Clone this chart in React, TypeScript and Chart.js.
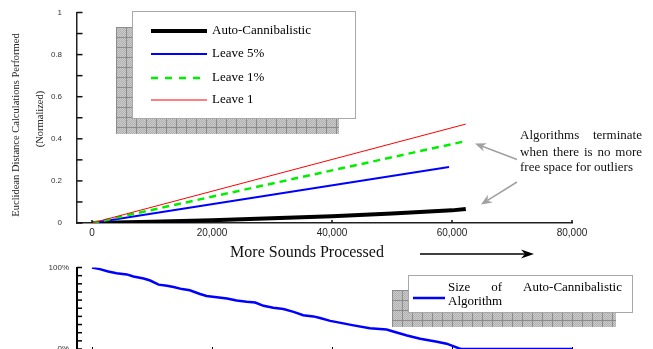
import React, { useEffect, useRef } from 'react';
import { Chart, registerables } from 'chart.js';

Chart.register(...registerables);

const SERIF = '"Liberation Serif", "Times New Roman", serif';
const SANS = '"Liberation Sans", Arial, sans-serif';

// ---- data (top chart) ----
const seriesNames = ['Auto-Cannibalistic', 'Leave 5%', 'Leave 1%', 'Leave 1'];
const autoX = [0, 10000, 20000, 30000, 40000, 50000, 60000, 62300];
const autoY = [0, 0.006, 0.013, 0.022, 0.032, 0.045, 0.06, 0.067];
const leave5X = [0, 59500];
const leave5Y = [0, 0.266];
const leave1pX = [0, 61800];
const leave1pY = [0, 0.386];
const leave1X = [0, 62300];
const leave1Y = [0, 0.47];

const xTickValues = [0, 20000, 40000, 60000, 80000];
const xTickLabels = ['0', '20,000', '40,000', '60,000', '80,000'];
const yTickLabels = ['0', '0.2', '0.4', '0.6', '0.8', '1'];
const xTitle = 'More Sounds Processed';
const yTitleLines = ['Euclidean Distance Calculations Performed', '(Normalized)'];
const annotationLines = ['Algorithms terminate', 'when there is no more', 'free space for outliers'];

// ---- data (bottom chart) ----
const sizeX = [0, 1300, 2700, 4100, 5800, 6900, 8600, 9700, 11100, 12500, 13600, 15000, 16300, 18000, 19100, 20800, 22500, 24100, 25800, 27200, 28600, 30200, 31900, 33600, 35200, 36900, 38000, 39700, 40800, 43600, 46300, 49100, 50200, 52500, 54700, 57500, 59100, 61100, 61500, 80000];
const sizeY = [100, 98, 95, 93, 91.5, 89, 86.5, 84, 79, 77.5, 76, 73.5, 72, 67.5, 65, 63.5, 62, 59.5, 58, 57, 53, 50.5, 49, 45.5, 41.5, 40, 38, 34.5, 33, 29, 25.5, 24, 21.5, 16.5, 12.5, 9, 6.5, 1, 0, 0];
const bottomYTickLabels = ['0%', '100%'];
const bottomLegendLines = ['Size of Auto-Cannibalistic', 'Algorithm'];

const zip = (xs: number[], ys: number[]) => xs.map((x, i) => ({ x, y: ys[i] }));

function hatchPattern(ctx: CanvasRenderingContext2D) {
  const c = document.createElement('canvas');
  c.width = 10;
  c.height = 10;
  const g = c.getContext('2d')!;
  g.fillStyle = '#cbcbcb';
  g.fillRect(0, 0, 10, 10);
  g.fillStyle = '#b0b0b0';
  for (let i = 0; i < 10; i++) for (let j = 0; j < 10; j++) if ((i + j) % 2 === 0) g.fillRect(i, j, 1, 1);
  g.fillStyle = '#8c8c8c';
  g.fillRect(0, 0, 10, 1);
  g.fillRect(0, 0, 1, 10);
  return ctx.createPattern(c, 'repeat')!;
}

function shadowBox(ctx: CanvasRenderingContext2D, sx: number, sy: number, bx: number, by: number, w: number, h: number) {
  ctx.save();
  ctx.translate(sx, sy);
  ctx.fillStyle = hatchPattern(ctx);
  ctx.fillRect(0, 0, w, h);
  ctx.restore();
  ctx.fillStyle = '#ffffff';
  ctx.fillRect(bx, by, w, h);
  ctx.strokeStyle = '#a8a8a8';
  ctx.lineWidth = 1;
  ctx.strokeRect(bx + 0.5, by + 0.5, w, h);
}

function arrow(ctx: CanvasRenderingContext2D, x1: number, y1: number, x2: number, y2: number, color: string, lw: number, hl: number, hw: number) {
  const a = Math.atan2(y2 - y1, x2 - x1);
  const c = Math.cos(a), s = Math.sin(a);
  const bx = x2 - hl * c, by = y2 - hl * s;
  const nx = x2 - hl * 0.7 * c, ny = y2 - hl * 0.7 * s;
  ctx.strokeStyle = color;
  ctx.lineWidth = lw;
  ctx.beginPath();
  ctx.moveTo(x1, y1);
  ctx.lineTo(nx, ny);
  ctx.stroke();
  ctx.fillStyle = color;
  ctx.beginPath();
  ctx.moveTo(x2, y2);
  ctx.lineTo(bx - s * hw, by + c * hw);
  ctx.lineTo(nx, ny);
  ctx.lineTo(bx + s * hw, by - c * hw);
  ctx.closePath();
  ctx.fill();
}

function justified(ctx: CanvasRenderingContext2D, text: string, x1: number, x2: number, y: number) {
  const words = text.split(' ');
  const widths = words.map((w) => ctx.measureText(w).width);
  const total = widths.reduce((a, b) => a + b, 0);
  const gap = words.length > 1 ? (x2 - x1 - total) / (words.length - 1) : 0;
  let x = x1;
  words.forEach((w, i) => {
    ctx.fillText(w, x, y);
    x += widths[i] + gap;
  });
}

const topDecor = {
  id: 'topDecor',
  afterDraw(chart: any) {
    const { ctx, chartArea, scales } = chart;
    const xs = scales.x, ys = scales.y;
    ctx.save();
    // inward tick marks
    ctx.strokeStyle = '#111';
    ctx.lineWidth = 1.5;
    ys.ticks.forEach((t: any) => {
      const py = ys.getPixelForValue(t.value);
      ctx.beginPath();
      ctx.moveTo(chartArea.left, py);
      ctx.lineTo(chartArea.left + 5.5, py);
      ctx.stroke();
    });
    xs.ticks.forEach((t: any) => {
      const px = xs.getPixelForValue(t.value);
      ctx.beginPath();
      ctx.moveTo(px, chartArea.bottom);
      ctx.lineTo(px, chartArea.bottom - 3);
      ctx.stroke();
    });

    // y title
    ctx.fillStyle = '#222';
    ctx.font = `10.5px ${SERIF}`;
    ctx.textAlign = 'center';
    ctx.textBaseline = 'middle';
    [[16, 125], [40, 119]].forEach(([tx, ty], i) => {
      ctx.save();
      ctx.translate(tx, ty);
      ctx.rotate(-Math.PI / 2);
      ctx.fillText(yTitleLines[i], 0, 0);
      ctx.restore();
    });

    // x title + arrow
    ctx.fillStyle = '#111';
    ctx.font = `16px ${SERIF}`;
    ctx.fillText(xTitle, 307, 253);
    arrow(ctx, 420, 254, 534, 254, '#000', 1.5, 13, 4.5);

    // legend
    shadowBox(ctx, 116, 27, 132, 11, 223, 107);
    const rows = [31, 54, 78, 100];
    const styles = [
      { c: '#000000', w: 4, d: [] as number[] },
      { c: '#0000ff', w: 2, d: [] as number[] },
      { c: '#00ee00', w: 2.5, d: [7, 7] },
      { c: '#ff0000', w: 1, d: [] as number[] },
    ];
    ctx.font = `13px ${SERIF}`;
    ctx.textAlign = 'left';
    ctx.textBaseline = 'middle';
    rows.forEach((ry, i) => {
      const st = styles[i];
      ctx.strokeStyle = st.c;
      ctx.lineWidth = st.w;
      ctx.setLineDash(st.d);
      ctx.beginPath();
      ctx.moveTo(151, ry);
      ctx.lineTo(207, ry);
      ctx.stroke();
      ctx.setLineDash([]);
      ctx.fillStyle = '#000';
      ctx.fillText(seriesNames[i], 212, ry);
    });

    // annotation
    ctx.fillStyle = '#111';
    ctx.font = `13px ${SERIF}`;
    justified(ctx, annotationLines[0], 520, 642, 136);
    justified(ctx, annotationLines[1], 520, 642, 152.5);
    ctx.fillText(annotationLines[2], 520, 168);
    arrow(ctx, 517, 159.5, 475, 143.5, '#a0a0a0', 1.5, 11, 4.5);
    arrow(ctx, 517, 182, 481, 204.5, '#a0a0a0', 1.5, 11, 4.5);
    ctx.restore();
  },
};

const bottomDecor = {
  id: 'bottomDecor',
  afterDraw(chart: any) {
    const { ctx, chartArea, scales } = chart;
    const xs = scales.x, ys = scales.y;
    ctx.save();
    ctx.strokeStyle = '#000';
    ctx.lineWidth = 1.5;
    ys.ticks.forEach((t: any) => {
      const py = ys.getPixelForValue(t.value);
      ctx.beginPath();
      ctx.moveTo(chartArea.left, py);
      ctx.lineTo(chartArea.left + 5, py);
      ctx.stroke();
    });
    ctx.lineWidth = 1;
    xTickValues.forEach((v) => {
      const px = Math.round(xs.getPixelForValue(v)) + 0.5;
      ctx.beginPath();
      ctx.moveTo(px, chartArea.bottom);
      ctx.lineTo(px, chartArea.bottom - 2);
      ctx.stroke();
    });

    // legend
    shadowBox(ctx, 392, 290, 408, 275, 224, 37);
    ctx.strokeStyle = '#0000ff';
    ctx.lineWidth = 2.5;
    ctx.beginPath();
    ctx.moveTo(413, 298);
    ctx.lineTo(445, 298);
    ctx.stroke();
    ctx.fillStyle = '#000';
    ctx.font = `13px ${SERIF}`;
    ctx.textAlign = 'left';
    ctx.textBaseline = 'middle';
    justified(ctx, bottomLegendLines[0], 448, 622, 287.5);
    ctx.fillText(bottomLegendLines[1], 448, 301.5);
    ctx.restore();
  },
};

export default function App() {
  const topRef = useRef<HTMLCanvasElement>(null);
  const botRef = useRef<HTMLCanvasElement>(null);

  useEffect(() => {
    const zeroPad = (s: any) => {
      s.paddingTop = 0;
      s.paddingBottom = 0;
      s.paddingLeft = 0;
      s.paddingRight = 0;
    };

    const top = new Chart(topRef.current!, {
      type: 'line',
      data: {
        datasets: [
          { label: seriesNames[3], data: zip(leave1X, leave1Y), borderColor: '#ff0000', borderWidth: 1, pointRadius: 0, fill: false },
          { label: seriesNames[2], data: zip(leave1pX, leave1pY), borderColor: '#00ee00', borderWidth: 2.5, borderDash: [7, 5], pointRadius: 0, fill: false },
          { label: seriesNames[1], data: zip(leave5X, leave5Y), borderColor: '#0000ff', borderWidth: 2, pointRadius: 0, fill: false },
          { label: seriesNames[0], data: zip(autoX, autoY), borderColor: '#000000', borderWidth: 4, pointRadius: 0, fill: false },
        ],
      },
      options: {
        animation: false,
        responsive: false,
        devicePixelRatio: 1,
        events: [],
        layout: { padding: { left: 0, top: 12.5, right: 81, bottom: 0 } },
        plugins: { legend: { display: false }, tooltip: { enabled: false } },
        scales: {
          x: {
            type: 'linear',
            min: -2500,
            max: 80000,
            afterBuildTicks: (s: any) => {
              s.ticks = xTickValues.map((v) => ({ value: v }));
            },
            afterFit: (s: any) => {
              s.height = 126;
              zeroPad(s);
            },
            grid: { display: false, drawTicks: false },
            border: { display: true, color: '#222', width: 1.5 },
            ticks: {
              autoSkip: false,
              maxRotation: 0,
              padding: 4,
              color: '#222',
              font: { family: SANS, size: 10 },
              callback: (v: any) => {
                const i = xTickValues.indexOf(Number(v));
                return i >= 0 ? xTickLabels[i] : '';
              },
            },
          },
          y: {
            type: 'linear',
            min: 0,
            max: 1,
            afterFit: (s: any) => {
              s.width = 77;
              zeroPad(s);
            },
            grid: { display: false, drawTicks: false },
            border: { display: true, color: '#222', width: 1.5 },
            ticks: {
              stepSize: 0.1,
              autoSkip: false,
              padding: 15,
              color: '#333',
              font: { family: SANS, size: 8 },
              callback: (v: any) => {
                const k = Math.round(Number(v) * 10);
                return k % 2 === 0 ? yTickLabels[k / 2] : '';
              },
            },
          },
        },
      },
      plugins: [topDecor],
    });

    const bottom = new Chart(botRef.current!, {
      type: 'line',
      data: {
        datasets: [
          { label: bottomLegendLines.join(' '), data: zip(sizeX, sizeY), borderColor: '#0000ff', borderWidth: 2.5, pointRadius: 0, fill: false },
        ],
      },
      options: {
        animation: false,
        responsive: false,
        devicePixelRatio: 1,
        events: [],
        layout: { padding: { left: 0, top: 267.5, right: 81, bottom: 0 } },
        plugins: { legend: { display: false }, tooltip: { enabled: false } },
        scales: {
          x: {
            type: 'linear',
            min: -2500,
            max: 80000,
            display: false,
          },
          y: {
            type: 'linear',
            min: 0,
            max: 100,
            afterFit: (s: any) => {
              s.width = 77;
              zeroPad(s);
            },
            grid: { display: false, drawTicks: false },
            border: { display: true, color: '#000', width: 2 },
            ticks: {
              stepSize: 10,
              autoSkip: false,
              padding: 8,
              color: '#333',
              font: { family: SANS, size: 8 },
              callback: (v: any) => {
                const n = Math.round(Number(v));
                return n === 0 ? bottomYTickLabels[0] : n === 100 ? bottomYTickLabels[1] : '';
              },
            },
          },
        },
      },
      plugins: [bottomDecor],
    });

    return () => {
      top.destroy();
      bottom.destroy();
    };
  }, []);

  return (
    <div style={{ position: 'absolute', left: 0, top: 0, width: 653, height: 349, overflow: 'hidden', background: '#fff' }}>
      <canvas ref={botRef} width={653} height={349} style={{ position: 'absolute', left: 0, top: 0 }} />
      <canvas ref={topRef} width={653} height={349} style={{ position: 'absolute', left: 0, top: 0 }} />
    </div>
  );
}
